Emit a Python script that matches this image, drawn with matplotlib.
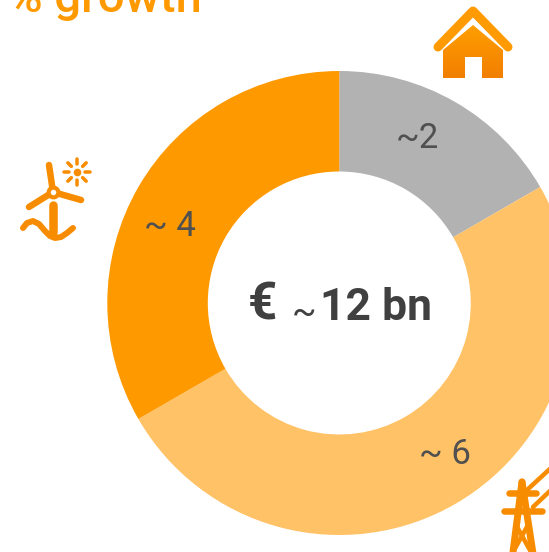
import numpy as np
import matplotlib
matplotlib.use('Agg')
import matplotlib.pyplot as plt
from matplotlib.patches import Polygon, Rectangle

# donut values, clockwise from the top
categories = ['Haushalte', 'Netze', 'Erneuerbare']
values = [2, 6, 4]
value_labels = ['~2', '~ 6', '~ 4']
slice_colors = ['#B2B2B2', '#FFC266', '#FF9900']
center_label = '€'
center_value = '12 bn'

ICON = '#F88C00'
TEXT = '#404040'
H = 552


def fy(y):
    # picture rows to axes y
    return H - y


def stroke(ax, xs, ys, lw, color=ICON):
    ax.plot(xs, [fy(y) for y in ys], color=color, lw=lw * 0.72, solid_capstyle='round',
            solid_joinstyle='round')


fig = plt.figure(figsize=(5.49, 5.52), dpi=100)
ax = fig.add_axes([0, 0, 1, 1])

ax.pie(values, colors=slice_colors, startangle=90, counterclock=False, radius=232,
       center=(339.3, fy(303)), wedgeprops={'width': 100.5, 'linewidth': 0})
ax.set_xlim(0, 549)
ax.set_ylim(0, H)
ax.set_aspect('equal')
ax.axis('off')

# labels on the ring
ax.text(417, fy(139), value_labels[0], fontsize=25, color='#505050', family='Roboto', ha='center', va='center')
ax.text(445, fy(454), value_labels[1], fontsize=25, color='#505050', family='Roboto', ha='center', va='center')
ax.text(170, fy(227), value_labels[2], fontsize=25, color='#505050', family='Roboto', ha='center', va='center')

# centre of the donut
ax.text(262, fy(306), center_label, fontsize=37, color=TEXT, family='Roboto', weight='bold', ha='center', va='center')
ax.text(304, fy(313), '~', fontsize=26, color=TEXT, family='Roboto', ha='center', va='center')
ax.text(320, fy(308), center_value, fontsize=32, color=TEXT, family='Roboto', weight='bold', ha='left', va='center')

# title, cut off by the top edge
ax.text(8, fy(12), '% growth', fontsize=34, color='#FF9900', family='Roboto', weight='medium', ha='left', va='baseline', clip_on=False)

# house icon
grad = np.linspace(0, 1, 64).reshape(-1, 1)
cmap = matplotlib.colors.LinearSegmentedColormap.from_list('house', ['#FF9E00', '#F27F00'])
im = ax.imshow(grad, cmap=cmap, extent=(443, 503, fy(78), fy(25)), aspect='auto', zorder=3)
body = Polygon([(443, fy(50)), (473, fy(25)), (503, fy(50)), (503, fy(78)), (443, fy(78))],
               closed=True, transform=ax.transData, facecolor='none', edgecolor='none')
ax.add_patch(body)
im.set_clip_path(body)
ax.add_patch(Rectangle((465, fy(78)), 17, 21, facecolor='white', edgecolor='none', zorder=4))
stroke(ax, [438, 473, 508], [47, 11, 47], 9, '#FF9A00')

# wind turbine and sun icon
hub = (53, 192)
for tip in [(49, 165), (29, 207), (81, 200)]:
    stroke(ax, [hub[0], tip[0]], [hub[1], tip[1]], 6.5)
ax.plot(hub[0], fy(hub[1]), 'o', ms=7, mfc='white', mec=ICON, mew=3, zorder=3)
stroke(ax, [53, 53], [205, 232], 8.5)
wave_x = [23, 27, 33, 39, 45, 50, 55, 61, 67, 73]
wave_y = [228, 223, 221, 224, 231, 236, 238, 237, 233, 228]
stroke(ax, wave_x, wave_y, 6)
sun = (77, 172)
ax.plot(sun[0], fy(sun[1]), 'o', ms=5.5, color=ICON, mew=0)
for a in np.deg2rad(np.arange(0, 360, 45)):
    stroke(ax, [sun[0] + 8 * np.cos(a), sun[0] + 13 * np.cos(a)],
           [sun[1] + 8 * np.sin(a), sun[1] + 13 * np.sin(a)], 3.5)

# pylon icon
stroke(ax, [522, 512], [482, 560], 7)
stroke(ax, [522, 534], [482, 560], 7)
stroke(ax, [509, 536], [493, 493], 6.5)
stroke(ax, [504, 542], [511, 511], 6.5)
stroke(ax, [516, 531], [525, 552], 4.5)
stroke(ax, [528, 513], [525, 552], 4.5)
stroke(ax, [527, 552], [490, 467], 4.5)
stroke(ax, [533, 552], [507, 489], 4.5)

ax.set_xlim(0, 549)
ax.set_ylim(0, H)
fig.savefig('out.png', dpi=100)
